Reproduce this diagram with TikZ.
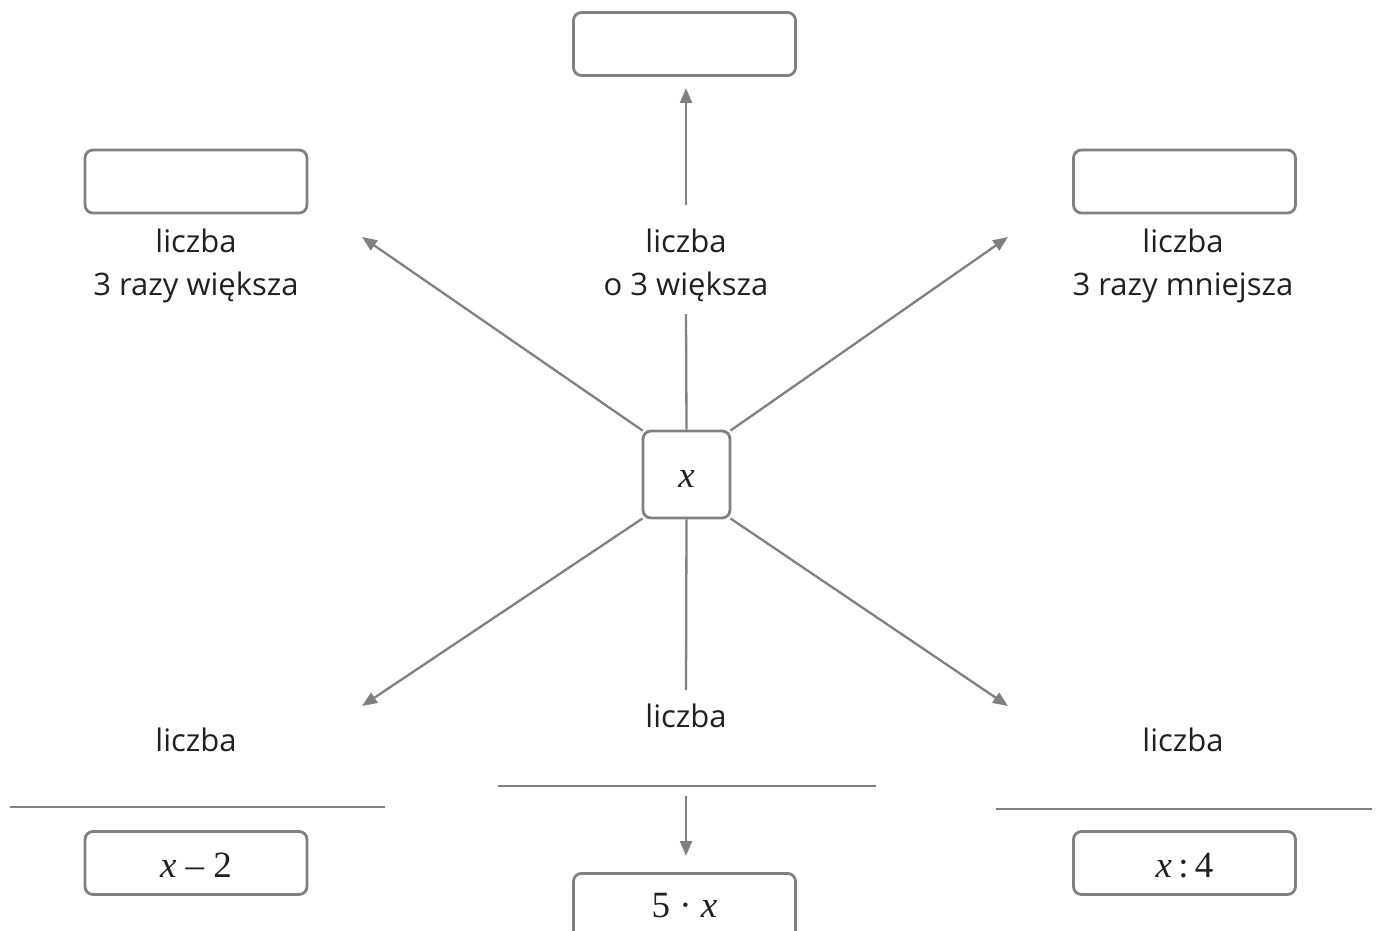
\documentclass[tikz,border=0pt]{standalone}
\usepackage{fontspec}
\setmainfont{Open Sans}
\newfontfamily\mathserif{Liberation Serif}
\usetikzlibrary{arrows.meta}
\definecolor{lg}{HTML}{808080}
\definecolor{tx}{HTML}{231F20}
\tikzset{
  box/.style={draw=lg, line width=2.8pt, rounded corners=8pt, minimum width=222pt, minimum height=63pt, inner sep=0pt, text=tx},
  cbox/.style={draw=lg, line width=2.8pt, rounded corners=8pt, minimum width=87pt, minimum height=87pt, inner sep=0pt, text=tx},
  lbl/.style={text=tx, align=center, font=\fontsize{31}{43}\selectfont, inner sep=0pt, anchor=base},
  conn/.style={draw=lg, line width=2.3pt},
  arr/.style={draw=lg, line width=2.3pt, -{Triangle[length=15pt, width=12pt]}},
  rule/.style={draw=lg, line width=1.4pt},
  mth/.style={text=tx, inner sep=0pt, anchor=base, font=\fontsize{37}{40}\selectfont\mathserif}
}
\begin{document}
\begin{tikzpicture}[x=1pt, y=-1pt]
\useasboundingbox (0,0) rectangle (1378,931);
\clip (0,0) rectangle (1378,931);
% boxes
\node[box] (top) at (684.5,44) {};
\node[box] (tl) at (196,181.5) {};
\node[box] (tr) at (1184.5,181.5) {};
\node[cbox] (c) at (686.5,474.5) {};
\node[box] (bl) at (196,863) {};
\node[box] (br) at (1184.5,863) {};
\node[box, minimum height=66pt, anchor=north] (bc) at (684.5,872) {};
% math texts
\node[mth] (ct) at (686.5,487) {\itshape x};
\node[mth] (blt-t) at (196,877) {\itshape x\upshape\ – 2};
\node[mth] (brt-t) at (1184.5,877) {\itshape x\upshape\,:\,4};
\node[mth] (bct) at (684.5,917) {5 · \itshape x};
% labels (base anchor = last line baseline)
\node[lbl] (ltl) at (196,295) {liczba\\3 razy większa};
\node[lbl] (lt) at (686,295) {liczba\\o 3 większa};
\node[lbl] (ltr) at (1183,295) {liczba\\3 razy mniejsza};
\node[lbl] (lbl1) at (196,751) {liczba};
\node[lbl] (lbc) at (686,727) {liczba};
\node[lbl] (lbr) at (1183,751) {liczba};
% free ends
\coordinate (ttip) at (686,88);
\coordinate (tstart) at (686,205);
\coordinate (tlt) at (362,237);
\coordinate (trt) at (1008,237);
\coordinate (blt) at (362,706);
\coordinate (brt) at (1008,706);
\coordinate (tmid) at (686,314);
\coordinate (bmid) at (686,690);
\coordinate (bstart) at (686,796);
\coordinate (btip) at (686,856);
% connectors
\draw[arr] (tstart) -- (ttip);
\draw[conn] (c.north) -- (tmid);
\draw[conn] (c.south) -- (bmid);
\draw[arr] ([shift={(1pt,-1pt)}]c.north west) -- (tlt);
\draw[arr] ([shift={(-1pt,-1pt)}]c.north east) -- (trt);
\draw[arr] ([shift={(1pt,1pt)}]c.south west) -- (blt);
\draw[arr] ([shift={(-1pt,1pt)}]c.south east) -- (brt);
\draw[arr] (bstart) -- (btip);
% rules
\coordinate (r1a) at (10,807); \coordinate (r1b) at (385,807);
\coordinate (r2a) at (498,786); \coordinate (r2b) at (876,786);
\coordinate (r3a) at (996,809); \coordinate (r3b) at (1372,809);
\draw[rule] (r1a) -- (r1b);
\draw[rule] (r2a) -- (r2b);
\draw[rule] (r3a) -- (r3b);
\end{tikzpicture}
\end{document}
